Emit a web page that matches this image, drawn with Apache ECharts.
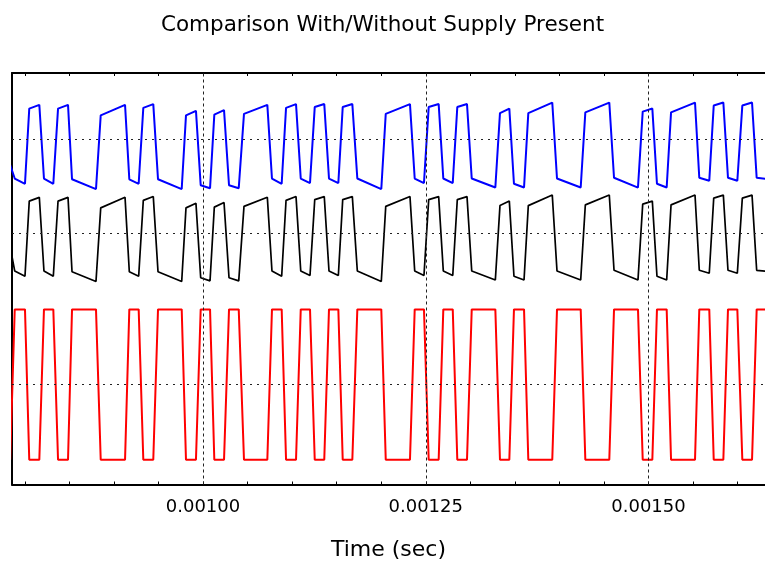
<!DOCTYPE html>
<html>
<head>
<meta charset="utf-8">
<script src="https://cdn.jsdelivr.net/npm/echarts@6.0.0/dist/echarts.min.js"></script>
<style>
  html, body { margin: 0; padding: 0; background: #fff; }
  #main { width: 765px; height: 565px; }
</style>
</head>
<body>
<div id="main"></div>
<script>
// corner points of the traces (time in sec), shared by all three traces
var timeSec = [
  0.0007836, 0.0007887, 0.0008002, 0.0008050, 0.0008163, 0.0008215, 0.0008320, 0.0008373,
  0.0008485, 0.0008530, 0.0008799, 0.0008852, 0.0009125, 0.0009173, 0.0009278, 0.0009330,
  0.0009442, 0.0009495, 0.0009761, 0.0009809, 0.0009921, 0.0009974, 0.0010079, 0.0010127,
  0.0010236, 0.0010292, 0.0010401, 0.0010460, 0.0010722, 0.0010774, 0.0010883, 0.0010932,
  0.0011044, 0.0011097, 0.0011201, 0.0011254, 0.0011361, 0.0011414, 0.0011519, 0.0011568,
  0.0011676, 0.0011732, 0.0012001, 0.0012051, 0.0012323, 0.0012376, 0.0012480, 0.0012533,
  0.0012645, 0.0012697, 0.0012803, 0.0012854, 0.0012963, 0.0013016, 0.0013281, 0.0013333,
  0.0013438, 0.0013490, 0.0013603, 0.0013651, 0.0013920, 0.0013973, 0.0014239, 0.0014291,
  0.0014560, 0.0014613, 0.0014882, 0.0014935, 0.0015043, 0.0015095, 0.0015204, 0.0015253,
  0.0015522, 0.0015570, 0.0015682, 0.0015732, 0.0015840, 0.0015892, 0.0015997, 0.0016053,
  0.0016162, 0.0016214, 0.0016364
];

// with supply (blue trace)
var withSupply = [
  2.92, 2.74, 2.67, 3.67, 3.72, 2.74, 2.67, 3.67, 3.72, 2.73, 2.60, 3.58, 3.72, 2.73, 2.67, 3.68,
  3.73, 2.73, 2.60, 3.58, 3.64, 2.65, 2.61, 3.59, 3.65, 2.65, 2.61, 3.60, 3.72, 2.74, 2.67, 3.68,
  3.73, 2.74, 2.68, 3.69, 3.73, 2.74, 2.68, 3.69, 3.73, 2.74, 2.60, 3.60, 3.73, 2.74, 2.68, 3.69,
  3.73, 2.74, 2.68, 3.69, 3.73, 2.74, 2.62, 3.61, 3.67, 2.67, 2.62, 3.61, 3.75, 2.74, 2.62, 3.62,
  3.75, 2.75, 2.62, 3.63, 3.67, 2.67, 2.62, 3.62, 3.75, 2.75, 2.71, 3.71, 3.75, 2.75, 2.71, 3.71,
  3.75, 2.75, 2.73
];

// without supply (black trace)
var withoutSupply = [
  1.83, 1.51, 1.44, 2.44, 2.49, 1.51, 1.44, 2.44, 2.49, 1.50, 1.37, 2.35, 2.49, 1.50, 1.44, 2.45,
  2.50, 1.50, 1.37, 2.35, 2.41, 1.42, 1.38, 2.36, 2.42, 1.42, 1.38, 2.37, 2.49, 1.51, 1.44, 2.45,
  2.50, 1.51, 1.45, 2.46, 2.50, 1.51, 1.45, 2.46, 2.50, 1.51, 1.37, 2.37, 2.50, 1.51, 1.45, 2.46,
  2.50, 1.51, 1.45, 2.46, 2.50, 1.51, 1.39, 2.38, 2.44, 1.44, 1.39, 2.38, 2.52, 1.51, 1.39, 2.39,
  2.52, 1.52, 1.39, 2.40, 2.44, 1.44, 1.39, 2.39, 2.52, 1.52, 1.48, 2.48, 2.52, 1.52, 1.48, 2.48,
  2.52, 1.52, 1.50
];

// input signal (red trace)
var inputSignal = [
  -1, 1, 1, -1, -1, 1, 1, -1, -1, 1, 1, -1, -1, 1, 1, -1,
  -1, 1, 1, -1, -1, 1, 1, -1, -1, 1, 1, -1, -1, 1, 1, -1,
  -1, 1, 1, -1, -1, 1, 1, -1, -1, 1, 1, -1, -1, 1, 1, -1,
  -1, 1, 1, -1, -1, 1, 1, -1, -1, 1, 1, -1, -1, 1, 1, -1,
  -1, 1, 1, -1, -1, 1, 1, -1, -1, 1, 1, -1, -1, 1, 1, -1,
  -1, 1, 1
];

var tickLabels = [0.00100, 0.00125, 0.00150];
var gridLevels = [0, 2.01, 3.26];

var xMin = 0.00078563;
var xMax = 0.00163075;
var yMin = -1.328;
var yMax = 4.143;

function pairs(ys) {
  return timeSec.map(function (t, i) { return [t, ys[i]]; });
}

var myChart = echarts.init(document.getElementById('main'));

// 网格虚线
var gridLines = tickLabels.map(function (t) {
  return [{ coord: [t, yMin], lineStyle: { color: '#222', width: 1, type: [3, 3] } }, { coord: [t, yMax] }];
}).concat(gridLevels.map(function (v) {
  return [{ coord: [xMin, v], lineStyle: { color: '#222', width: 1, type: [2, 5] } }, { coord: [xMax, v] }];
}));

var option = {
  animation: false,
  backgroundColor: '#fff',
  title: {
    text: 'Comparison With/Without Supply Present',
    left: 'center',
    top: 9,
    textStyle: { fontFamily: 'DejaVu Sans', fontSize: 21.5, fontWeight: 'normal', color: '#000' }
  },
  grid: { left: 12, top: 73, right: 0, bottom: 80.5, containLabel: false, outerBoundsMode: 'none' },
  xAxis: [
    {
      type: 'value',
      position: 'bottom',
      min: xMin,
      max: xMax,
      minInterval: 0.00005,
      maxInterval: 0.00005,
      name: 'Time (sec)',
      nameLocation: 'middle',
      nameGap: 55,
      nameTextStyle: { fontFamily: 'DejaVu Sans', fontSize: 22, color: '#000' },
      axisLine: { show: true, onZero: false, lineStyle: { color: '#000', width: 2 } },
      axisTick: { show: true, inside: true, length: 3, lineStyle: { color: '#000', width: 1 } },
      axisLabel: {
        show: true,
        customValues: tickLabels,
        margin: 14,
        fontFamily: 'DejaVu Sans',
        fontSize: 18,
        color: '#000',
        formatter: function (v) {
          var k = v / 0.00025;
          return Math.abs(k - Math.round(k)) < 1e-6 ? v.toFixed(5) : '';
        }
      },
      splitLine: { show: false }
    },
    {
      type: 'value',
      position: 'top',
      min: xMin,
      max: xMax,
      minInterval: 0.00005,
      maxInterval: 0.00005,
      axisLine: { show: true, onZero: false, lineStyle: { color: '#000', width: 2 } },
      axisTick: { show: true, inside: true, length: 3, lineStyle: { color: '#000', width: 1 } },
      axisLabel: { show: false },
      splitLine: { show: false }
    }
  ],
  yAxis: {
    type: 'value',
    min: yMin,
    max: yMax,
    axisLine: { show: true, onZero: false, lineStyle: { color: '#000', width: 2 } },
    axisTick: { show: false },
    axisLabel: { show: false },
    splitLine: { show: false }
  },
  series: [
    {
      type: 'line',
      data: [],
      silent: true,
      z: 1,
      markLine: {
        silent: true,
        animation: false,
        symbol: ['none', 'none'],
        label: { show: false },
        data: gridLines
      }
    },
    {
      name: 'With Supply',
      type: 'line',
      data: pairs(withSupply),
      showSymbol: false,
      z: 3,
      lineStyle: { color: '#0000ff', width: 2 }
    },
    {
      name: 'Without Supply',
      type: 'line',
      data: pairs(withoutSupply),
      showSymbol: false,
      z: 3,
      lineStyle: { color: '#000000', width: 1.7 }
    },
    {
      name: 'Input',
      type: 'line',
      data: pairs(inputSignal),
      showSymbol: false,
      z: 3,
      lineStyle: { color: '#ff0000', width: 2 }
    }
  ]
};
myChart.setOption(option);
</script>
</body>
</html>
